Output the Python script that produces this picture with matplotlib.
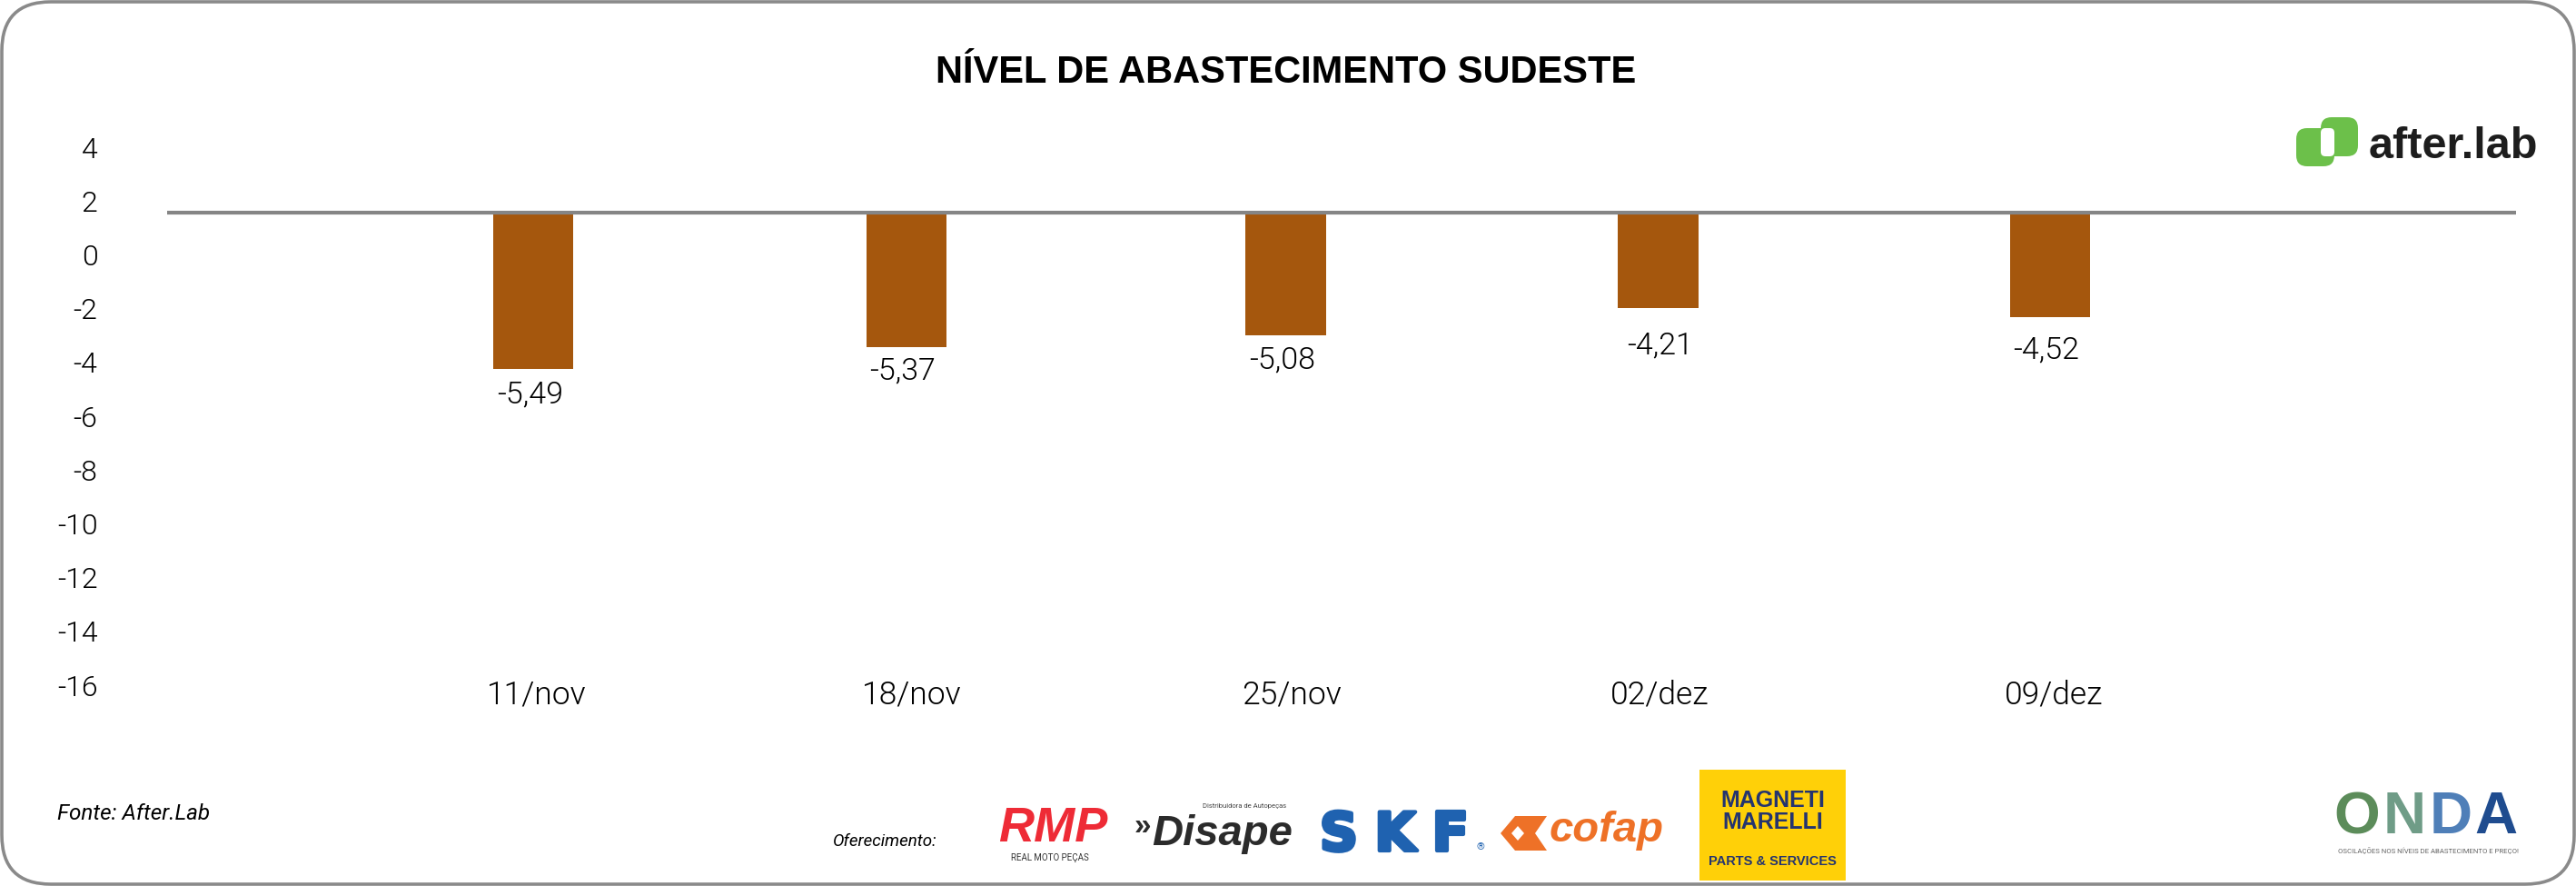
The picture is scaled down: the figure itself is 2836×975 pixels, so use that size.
import matplotlib
matplotlib.use("Agg")
import matplotlib.pyplot as plt
from matplotlib.patches import FancyBboxPatch, Rectangle, Polygon
import matplotlib.patheffects as pe

W, H = 2836, 975

# --- data -----------------------------------------------------------
categories = ["11/nov", "18/nov", "25/nov", "02/dez", "09/dez"]
value_labels = ["-5,49", "-5,37", "-5,08", "-4,21", "-4,52"]
bar_ends = [-4.24, -3.44, -3.00, -1.99, -2.32]   # bar tip read on the y scale
bar_baseline = 1.58                              # baseline rule read on the y scale
y_ticks = [4, 2, 0, -2, -4, -6, -8, -10, -12, -14, -16]
title = "NÍVEL DE ABASTECIMENTO SUDESTE"
source = "Fonte: After.Lab"
sponsor = "Oferecimento:"
# layout, in figure pixels (spacing in the source is uneven)
bar_centres = [587, 998, 1415.5, 1825.5, 2257]
label_centres = [591, 1004, 1422, 1827, 2261]
value_dx = [-3, -4, -4, 2, -4]
value_dy = [25, 23, 24, 38, 33]

FONT = "Roboto"
TXT = "#000000"
fig = plt.figure(figsize=(W / 100, H / 100), dpi=100, facecolor="white")


def px(x0, y0, x1, y1):
    return [x0 / W, 1 - y1 / H, (x1 - x0) / W, (y1 - y0) / H]


def rbox(ax, x0, y0, x1, y1, r, fc, **kw):
    ax.add_patch(FancyBboxPatch((x0 + r, y0 + r), x1 - x0 - 2 * r, y1 - y0 - 2 * r,
                                boxstyle=f"round,pad={r},rounding_size={r}",
                                fc=fc, **kw))


bg = fig.add_axes([0, 0, 1, 1], zorder=0)
bg.set_xlim(0, W)
bg.set_ylim(H, 0)
bg.axis("off")
rbox(bg, 2, 2, W - 2, H - 2, 54, "white", ec="#8a8a8a", lw=2.6)

# main axes: spans x 184..2770 px, y tick 4 at 162 px and tick -16 at 754 px
ax = fig.add_axes(px(184, 162, 2770, 754), zorder=1)
ax.patch.set_alpha(0)
ax.set_xlim(184, 2770)
ax.set_ylim(-16, 4)
for s in ax.spines.values():
    s.set_visible(False)
ax.set_yticks(y_ticks)
ax.set_yticklabels([str(t) for t in y_ticks], fontsize=23, family=FONT,
                   fontweight=300, color=TXT)
ax.tick_params(axis="y", length=0, pad=55)
ax.set_xticks([])

heights = [e - bar_baseline for e in bar_ends]
ax.bar(bar_centres, heights, bottom=bar_baseline, width=88.5, color="#A5570D",
       lw=0, zorder=2)
ax.axhline(bar_baseline, color="#858585", lw=3, zorder=3)

for xc, end, lab, dx, dy in zip(bar_centres, bar_ends, value_labels, value_dx, value_dy):
    ax.annotate(lab, (xc, end), xytext=(dx, -dy), textcoords="offset pixels",
                ha="center", va="center_baseline", fontsize=24.5, family=FONT,
                fontweight=300, color=TXT)
for xc, lab in zip(label_centres, categories):
    bg.text(xc, 761, lab, ha="center", va="center_baseline", fontsize=25.5, family=FONT,
            fontweight=300, color=TXT)

bg.text(1416, 91, title, ha="center", va="baseline", fontsize=30,
        fontweight="bold", family="Liberation Sans", color="#000000")
bg.text(63, 896, source, ha="left", va="center", fontsize=17.5, style="italic",
        family=FONT, color=TXT)
bg.text(917, 926, sponsor, ha="left", va="center", fontsize=13.5, style="italic",
        family=FONT, color=TXT)

# after.lab logo
GREEN = "#6CC04A"
rbox(bg, 2528, 141, 2570, 183, 12, GREEN, ec="none")
rbox(bg, 2555, 129, 2596, 172, 12, GREEN, ec="none")
rbox(bg, 2555, 141, 2570, 172, 5, "white", ec="none")
bg.text(2608, 174, "after.lab", ha="left", va="baseline", fontsize=35, fontweight="bold",
        family="Liberation Sans", color="#1d1d1d")

# sponsors
bg.text(1159, 926, "RMP", ha="center", va="baseline", fontsize=39, fontweight="bold",
        style="italic", family="Liberation Sans", color="#EE2B36")
bg.text(1156, 944, "REAL MOTO PEÇAS", ha="center", va="center", fontsize=7,
        family=FONT, color="#333333")
bg.text(1248, 909, "»", ha="left", va="center", fontsize=24, fontweight="bold",
        family="Liberation Sans", color="#2b2b2b")
bg.text(1268, 930, "Disape", ha="left", va="baseline", fontsize=34, fontweight="bold",
        style="italic", family="Liberation Sans", color="#2b2b2b")
bg.text(1416, 887, "Distribuidora de Autopeças", ha="right", va="center", fontsize=5.5,
        family=FONT, color="#444444")
for ch, xc in zip("SKF", [1474, 1536, 1597]):
    bg.text(xc, 936, ch, ha="center", va="baseline", fontsize=42, fontweight="bold",
            family="DejaVu Sans", color="#1F62B0",
            path_effects=[pe.withStroke(linewidth=3, foreground="#1F62B0")])
bg.text(1630, 932, "®", ha="center", va="center", fontsize=8, family=FONT, color="#1F62B0")
bg.add_patch(Polygon([(1652, 917), (1668, 898), (1703, 898), (1690, 917), (1703, 936),
                      (1668, 936)], fc="#EE7127", ec="none"))
bg.add_patch(Polygon([(1664, 917), (1671, 909), (1678, 917), (1671, 925)], fc="white", ec="none"))
bg.text(1706, 926, "cofap", ha="left", va="baseline", fontsize=34, fontweight="bold",
        style="italic", family="Liberation Sans", color="#EE7127")
bg.add_patch(Rectangle((1871, 847), 161, 122, fc="#FFD008", ec="none", zorder=1.5))
bg.text(1952, 893, "MAGNETI\nMARELLI", ha="center", va="center", fontsize=18, fontweight="bold",
        family="Liberation Sans", color="#24346F", linespacing=1.05, zorder=2)
bg.text(1951, 948, "PARTS & SERVICES", ha="center", va="center", fontsize=10.5,
        fontweight="bold", family="Liberation Sans", color="#24346F", zorder=2)

# ONDA logo
onda_cols = ["#5C8C5A", "#6F9C87", "#4F7FB8", "#1F4C8F"]
onda_x = [2595, 2647, 2698, 2748]
for ch, xc, col in zip("ONDA", onda_x, onda_cols):
    bg.text(xc, 917, ch, ha="center", va="baseline", fontsize=47, fontweight="bold",
            family="Liberation Sans", color=col)
bg.text(2673, 936, "OSCILAÇÕES NOS NÍVEIS DE ABASTECIMENTO E PREÇO!", ha="center", va="center",
        fontsize=5.6, family=FONT, color="#666666")

fig.savefig("out.png", dpi=100, facecolor="white")
